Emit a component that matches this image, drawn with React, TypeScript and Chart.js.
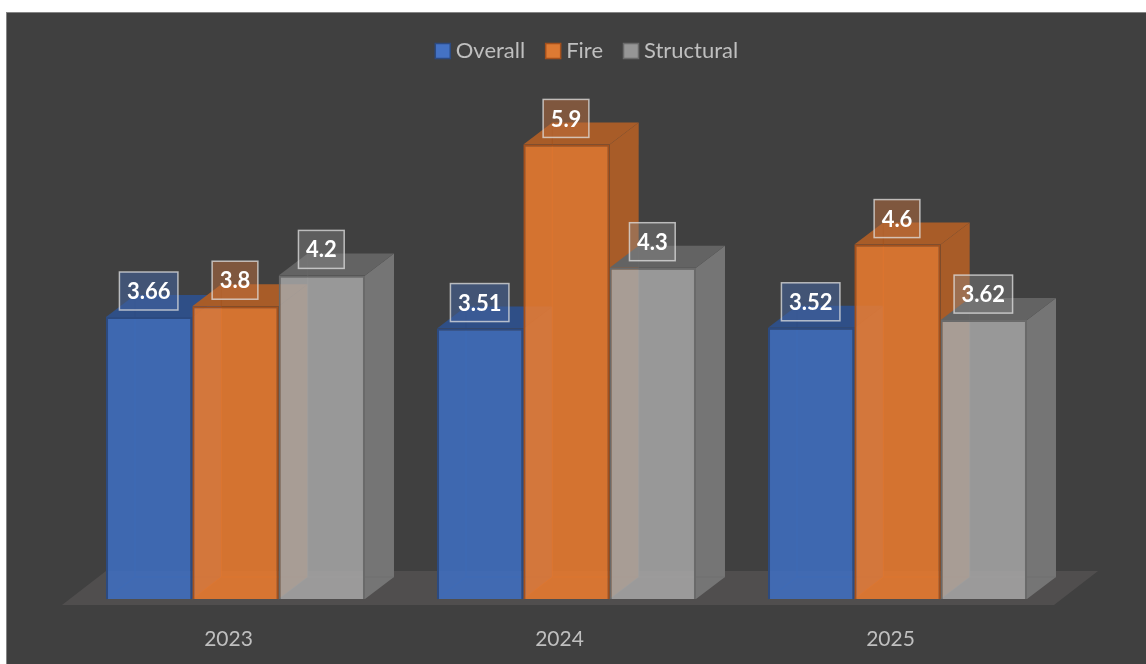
import React, { useEffect, useRef } from "react";
import { Chart, registerables } from "chart.js";

Chart.register(...registerables);

const categories = ["2023", "2024", "2025"];
const overall = [3.66, 3.51, 3.52];
const fire = [3.8, 5.9, 4.6];
const structural = [4.2, 4.3, 3.62];

const FONT = "Lato, Carlito, 'Open Sans', sans-serif";
const DX = 29;
const DY = -22;

const looks = [
  { front: "rgba(62,112,196,0.85)", border: "#2C4A80", side: "#35578F", top: "#2F4F87", label: "rgba(68,100,160,0.55)", swatch: "#4472C4" },
  { front: "rgba(238,124,46,0.85)", border: "#A4501C", side: "#A85C28", top: "#A85C28", label: "rgba(190,110,60,0.5)", swatch: "#DD7A33" },
  { front: "rgba(168,168,168,0.85)", border: "#6A6A6A", side: "#757575", top: "#636363", label: "rgba(140,140,140,0.4)", swatch: "#969696" },
];

function poly(ctx: CanvasRenderingContext2D, pts: number[][], fill: string) {
  ctx.beginPath();
  pts.forEach((p, i) => (i ? ctx.lineTo(p[0], p[1]) : ctx.moveTo(p[0], p[1])));
  ctx.closePath();
  ctx.fillStyle = fill;
  ctx.fill();
}

const scene = {
  id: "scene",
  beforeDraw(chart: any) {
    const { ctx, width, height } = chart;
    ctx.save();
    ctx.fillStyle = "#FFFFFF";
    ctx.fillRect(0, 0, width, height);
    ctx.fillStyle = "#404040";
    ctx.fillRect(6, 12, width - 6, height - 12);
    ctx.strokeStyle = "#858585";
    ctx.lineWidth = 1;
    ctx.strokeRect(6.5, 12.5, width, height);
    ctx.restore();
  },
  afterLayout(chart: any) {
    chart.legend.left += 23;
    chart.legend.right += 23;
  },
  beforeDatasetsDraw(chart: any) {
    const { ctx, chartArea } = chart;
    const base = chart.scales.y.getPixelForValue(0);
    ctx.save();
    const l = chartArea.left - 8;
    const r = chartArea.right - 9;
    const y = base + 6;
    poly(ctx, [[l, y], [r, y], [r + 44, y - 34], [l + 44, y - 34]], "#504E4E");
    chart.data.datasets.forEach((_: any, d: number) => {
      const look = looks[d];
      chart.getDatasetMeta(d).data.forEach((el: any) => {
        const x0 = el.x - el.width / 2;
        const x1 = el.x + el.width / 2;
        const t = el.y;
        const b = el.base;
        poly(ctx, [[x1, t], [x1 + DX, t + DY], [x1 + DX, b + DY], [x1, b]], look.side);
        poly(ctx, [[x0, t], [x1, t], [x1 + DX, t + DY], [x0 + DX, t + DY]], look.top);
        ctx.strokeStyle = look.border;
        ctx.lineWidth = 1;
        ctx.globalAlpha = 0.55;
        ctx.beginPath();
        ctx.moveTo(x0 + DX, t + DY);
        ctx.lineTo(x0 + DX, b + DY);
        ctx.lineTo(x1 + DX, b + DY);
        ctx.moveTo(x0 + DX, b + DY);
        ctx.lineTo(x0, b);
        ctx.stroke();
        ctx.globalAlpha = 1;
      });
    });
    ctx.restore();
  },
  afterDatasetsDraw(chart: any) {
    const { ctx } = chart;
    ctx.save();
    ctx.font = `bold 22px ${FONT}`;
    ctx.textAlign = "center";
    ctx.textBaseline = "middle";
    chart.data.datasets.forEach((ds: any, d: number) => {
      chart.getDatasetMeta(d).data.forEach((el: any, i: number) => {
        const text = String(ds.data[i]);
        const w = ctx.measureText(text).width + 15;
        const h = 38;
        const cx = el.x - 0.5;
        const cy = el.y - 26;
        ctx.fillStyle = looks[d].label;
        ctx.fillRect(cx - w / 2, cy - h / 2, w, h);
        ctx.strokeStyle = "rgba(225,225,225,0.75)";
        ctx.lineWidth = 1.5;
        ctx.strokeRect(cx - w / 2, cy - h / 2, w, h);
        ctx.fillStyle = "#FFFFFF";
        ctx.fillText(text, cx, cy + 1);
      });
    });
    ctx.restore();
  },
};

export default function App() {
  const ref = useRef<HTMLCanvasElement>(null);
  useEffect(() => {
    const seriesNames = ["Overall", "Fire", "Structural"];
    const series = [overall, fire, structural];
    const chart = new Chart(ref.current!, {
      type: "bar",
      data: {
        labels: categories,
        datasets: series.map((data, i) => ({
          label: seriesNames[i],
          data,
          backgroundColor: looks[i].front,
          borderColor: looks[i].border,
          borderWidth: 2,
          categoryPercentage: 0.7824,
          barPercentage: 1,
        })),
      },
      options: {
        responsive: false,
        animation: false,
        layout: { padding: { left: 70, right: 83, top: 14, bottom: 13 } },
        plugins: {
          tooltip: { enabled: false },
          legend: {
            position: "top",
            labels: {
              usePointStyle: true,
              boxWidth: 4,
              boxHeight: 15,
              padding: 26,
              color: "#BFBFBF",
              font: { family: FONT, size: 22 },
              generateLabels: () =>
                seriesNames.map((text, i) => ({
                  text,
                  fillStyle: looks[i].swatch,
                  strokeStyle: looks[i].border,
                  lineWidth: 1.5,
                  pointStyle: "rect",
                  fontColor: "#BFBFBF",
                  datasetIndex: i,
                })),
            },
          },
        },
        scales: {
          x: {
            grid: { display: false, drawTicks: false },
            border: { display: false },
            ticks: { color: "#BFBFBF", font: { family: FONT, size: 21 }, padding: 28, labelOffset: -7 },
            afterFit(s: any) {
              s.height = 52;
            },
          },
          y: { display: false, min: 0, max: 6.84 },
        },
      },
      plugins: [scene],
    } as any);
    return () => chart.destroy();
  }, []);
  return (
    <div style={{ position: "absolute", left: 0, top: 0, width: 1146, height: 664 }}>
      <canvas ref={ref} width={1146} height={664} style={{ display: "block" }} />
    </div>
  );
}
